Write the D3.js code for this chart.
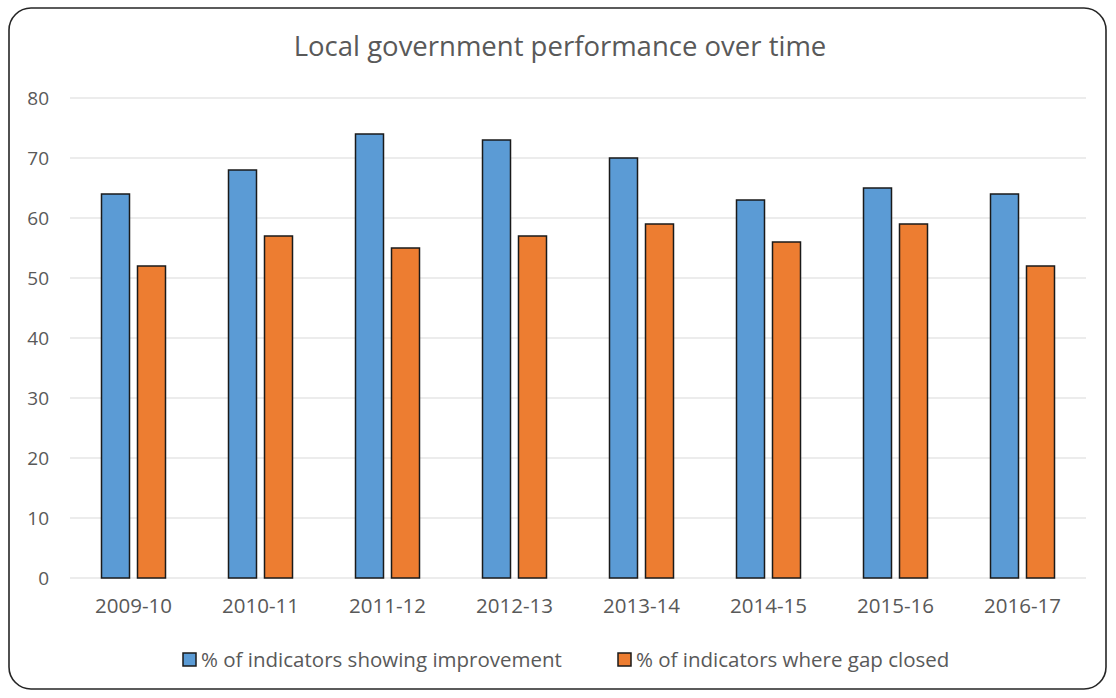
<!DOCTYPE html>
<html><head><meta charset="utf-8">
<script src="https://cdn.jsdelivr.net/npm/d3@7"></script>
<style>body{margin:0;background:#fff}svg{display:block}text{font-family:"Open Sans",sans-serif;fill:#595959}</style>
</head><body><svg id="c" width="1116" height="698"></svg>
<script>
const categories = ["2009-10","2010-11","2011-12","2012-13","2013-14","2014-15","2015-16","2016-17"];
const improvement = [64,68,74,73,70,63,65,64];
const gapClosed = [52,57,55,57,59,56,59,52];
const seriesNames = ["% of indicators showing improvement","% of indicators where gap closed"];
const yTicks = [0,10,20,30,40,50,60,70,80];
const title = "Local government performance over time";
const colors = ["#5B9BD5","#ED7D31"];

const svg = d3.select("#c");
svg.append("rect").attr("x",9).attr("y",8).attr("width",1097).attr("height",681)
  .attr("rx",22).attr("fill","#fff").attr("stroke","#262626").attr("stroke-width",1.6);

const x0 = d3.scaleBand().domain(categories).range([70,1086]);
const y = d3.scaleLinear().domain([0,80]).range([578,98]);

svg.append("text").attr("x",560).attr("y",56).attr("text-anchor","middle")
  .style("font-size","27.5px").text(title);

const g = svg.append("g");
g.selectAll("line.grid").data(yTicks).join("line")
  .attr("x1",70).attr("x2",1086).attr("y1",d=>y(d)).attr("y2",d=>y(d))
  .attr("stroke","#d9d9d9").attr("stroke-width",1);

const yAxis = d3.axisLeft(y).tickValues(yTicks).tickSize(0).tickPadding(0);
const ya = svg.append("g").attr("transform","translate(49,0)").call(yAxis);
ya.select(".domain").remove();
ya.selectAll("text").style("font-size","19px").style("font-family","'Open Sans',sans-serif").attr("fill","#595959");

const xAxis = d3.axisBottom(x0).tickSize(0).tickPadding(0);
const xa = svg.append("g").attr("transform","translate(0,598)").call(xAxis);
xa.select(".domain").remove();
xa.selectAll("text").style("font-size","20.5px").style("font-family","'Open Sans',sans-serif").attr("fill","#595959");

const bw = 28, gap = 8;
const series = [improvement, gapClosed];
series.forEach((vals,si)=>{
  svg.append("g").selectAll("rect").data(categories).join("rect")
    .attr("x",(d,i)=>x0(d)+x0.bandwidth()/2 + (si===0 ? -gap/2-bw : gap/2))
    .attr("y",(d,i)=>y(vals[i]))
    .attr("width",bw)
    .attr("height",(d,i)=>y(0)-y(vals[i]))
    .attr("fill",colors[si]).attr("stroke","#1a1a1a").attr("stroke-width",1.5);
});

// legend
const legX = [183,618];
seriesNames.forEach((n,i)=>{
  svg.append("rect").attr("x",legX[i]).attr("y",653).attr("width",13).attr("height",13)
    .attr("fill",colors[i]).attr("stroke","#1a1a1a").attr("stroke-width",1.5);
  svg.append("text").attr("x",legX[i]+18).attr("y",667).style("font-size","20.5px").text(n);
});
</script></body></html>
